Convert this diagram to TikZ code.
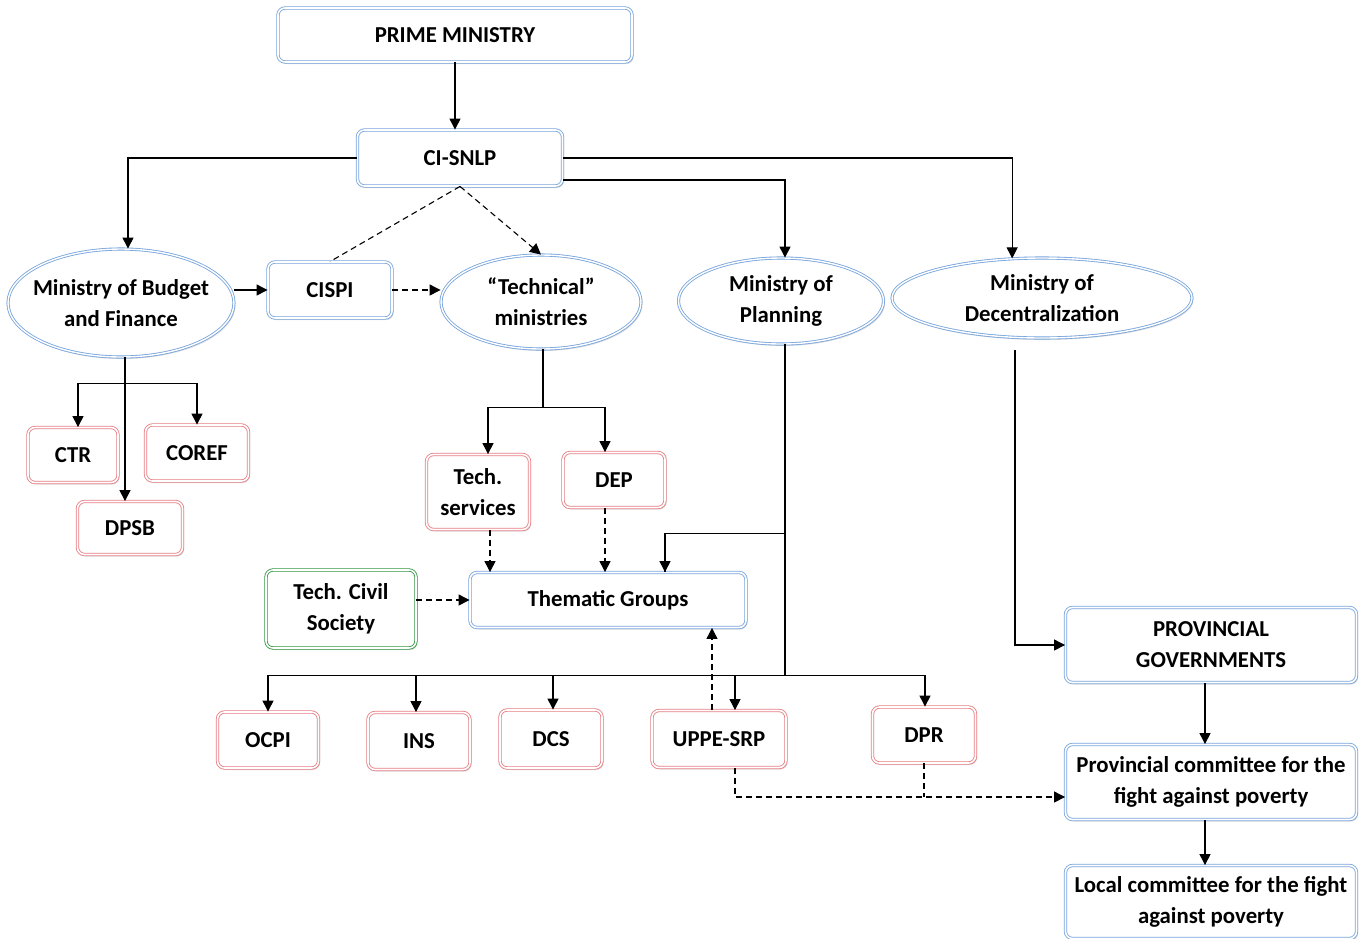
\documentclass[tikz,border=0pt]{standalone}
\usepackage{fontspec}
\setmainfont{Carlito}
\usetikzlibrary{shapes.geometric,arrows.meta,calc,shadows}
\definecolor{bl}{RGB}{120,165,220}
\definecolor{rd}{RGB}{230,125,130}
\definecolor{gr}{RGB}{50,150,65}
\begin{document}
\begin{tikzpicture}[x=1pt,y=-1pt,
 every node/.style={font=\fontsize{22.8}{31}\selectfont\bfseries, align=center, inner sep=0pt},
 bbox/.style={draw=bl, double=white, double distance=1.6pt, line width=0.85pt, rounded corners=7pt,
   drop shadow={opacity=0.25, shadow xshift=1.5pt, shadow yshift=-2pt}, fill=white},
 rbox/.style={bbox, draw=rd},
 gbox/.style={bbox, draw=gr},
 ell/.style={ellipse, draw=bl, double=white, double distance=1.4pt, line width=0.85pt,
   inner xsep=-30pt, inner ysep=-15pt,
   drop shadow={opacity=0.25, shadow xshift=1.5pt, shadow yshift=-2pt}, fill=white},
 arr/.style={-{Triangle[length=11pt,width=11pt]}, line width=1.1pt},
 ln/.style={line width=1.1pt},
 darr/.style={arr, dash pattern=on 6pt off 4pt},
 dln/.style={ln, dash pattern=on 6pt off 4pt},
]
\useasboundingbox (0,0) rectangle (1360,938);

% nodes
\node[bbox, minimum width=354pt, minimum height=54pt] (pm) at (455,35) {PRIME MINISTRY};
\node[bbox, minimum width=205pt, minimum height=56pt] (ci) at (460,158) {CI-SNLP};
\node[ell, minimum width=226pt, minimum height=108pt] (bud) at (121,303) {Ministry of Budget\\and Finance};
\node[bbox, minimum width=124pt, minimum height=56pt] (cispi) at (330,290) {CISPI};
\node[ell, minimum width=200pt, minimum height=94pt] (tech) at (541,302) {“Technical”\\ministries};
\node[ell, minimum width=205pt, minimum height=86pt] (plan) at (781,301) {Ministry of\\Planning};
\node[ell, minimum width=300pt, minimum height=80pt] (dec) at (1042,298) {Ministry of\\Decentralization};

\node[rbox, minimum width=90pt, minimum height=55pt] (ctr) at (73,455) {CTR};
\node[rbox, minimum width=103pt, minimum height=56pt] (coref) at (197,453) {COREF};
\node[rbox, minimum width=105pt, minimum height=53pt] (dpsb) at (130,528) {DPSB};
\node[rbox, minimum width=103pt, minimum height=75pt] (ts) at (478,492) {Tech.\\services};
\node[rbox, minimum width=102pt, minimum height=55pt] (dep) at (614,480) {DEP};
\node[gbox, minimum width=150pt, minimum height=78pt] (civ) at (341,609) {Tech. Civil\\Society};
\node[bbox, minimum width=276pt, minimum height=55pt] (tg) at (608,600) {Thematic Groups};

\node[rbox, minimum width=101pt, minimum height=56pt] (ocpi) at (268,740) {OCPI};
\node[rbox, minimum width=102pt, minimum height=57pt] (ins) at (419,741) {INS};
\node[rbox, minimum width=102pt, minimum height=58pt] (dcs) at (551,739) {DCS};
\node[rbox, minimum width=134pt, minimum height=57pt] (upp) at (719,739) {UPPE-SRP};
\node[rbox, minimum width=103pt, minimum height=56pt] (dpr) at (924,735) {DPR};

\node[bbox, minimum width=291pt, minimum height=75pt] (prov) at (1211,645) {PROVINCIAL\\GOVERNMENTS};
\node[bbox, minimum width=291pt, minimum height=75pt] (pc) at (1211,782) {Provincial committee for the\\fight against poverty};
\node[bbox, minimum width=291pt, minimum height=73pt] (lc) at (1211,902) {Local committee for the fight\\against poverty};

% connectors
\draw[arr] (pm.south) -- (pm.south |- ci.north);
\draw[arr] (ci.west) -| ([xshift=7pt]bud.north);
\draw[arr] (ci.east) -| (dec.127);
\draw[arr] ([yshift=-22pt]ci.east) -| ([xshift=4pt]plan.north);
\draw[dln] (ci.south) -- (cispi.north);
\draw[darr] (ci.south) -- (tech.north);
\draw[arr] (bud.east |- cispi.west) -- (cispi.west);
\draw[darr] (cispi.east) -- (tech.west |- cispi.east);

% budget branch
\draw[arr] ([xshift=4pt]bud.south) -- ([xshift=4pt]bud.south |- dpsb.north);
\coordinate (bj) at ($(bud.south)+(4,26)$);
\draw[ln] ([xshift=5pt]ctr.north |- bj) -- (coref.north |- bj);
\draw[arr] ([xshift=5pt]ctr.north |- bj) -- ([xshift=5pt]ctr.north);
\draw[arr] (coref.north |- bj) -- (coref.north);

% technical branch
\coordinate (tj) at ($(tech.south)+(2,58)$);
\draw[ln] (tech.south -| tj) -- (tj);
\draw[ln] ([xshift=10pt]ts.north |- tj) -- ([xshift=-9pt]dep.north |- tj);
\draw[arr] ([xshift=10pt]ts.north |- tj) -- ([xshift=10pt]ts.north);
\draw[arr] ([xshift=-9pt]dep.north |- tj) -- ([xshift=-9pt]dep.north);
\draw[darr] ([xshift=12pt]ts.south) -- ([xshift=12pt]ts.south |- tg.north);
\draw[darr] ([xshift=-9pt]dep.south) -- ([xshift=-9pt]dep.south |- tg.north);
\draw[darr] (civ.east |- tg.west) -- (tg.west);

% planning branch
\coordinate (pt) at ([xshift=4pt]plan.south);
\coordinate (pj) at ($(pt)+(0,189)$);
\coordinate (bus) at ($(pt)+(0,331)$);
\draw[ln] (pt) -- (bus);
\draw[ln] (pj) -| ([xshift=57pt]tg.north);
\draw[arr] ([xshift=57pt]tg.north |- pj) -- ([xshift=57pt]tg.north);
\draw[ln] (ocpi.north |- bus) -- (dpr.north |- bus);
\draw[arr] (ocpi.north |- bus) -- (ocpi.north);
\draw[arr] ([xshift=-3pt]ins.north |- bus) -- ([xshift=-3pt]ins.north);
\draw[arr] ([xshift=2pt]dcs.north |- bus) -- ([xshift=2pt]dcs.north);
\draw[arr] ([xshift=16pt]upp.north |- bus) -- ([xshift=16pt]upp.north);
\draw[arr] ([xshift=1pt]dpr.north |- bus) -- ([xshift=1pt]dpr.north);
\draw[darr] ([xshift=-7pt]upp.north) -- ([xshift=-7pt]upp.north |- tg.south);

% dashed to provincial committee
\coordinate (pcin) at ([yshift=-15pt]pc.west);
\draw[darr] ([xshift=16pt]upp.south) |- (pcin);
\draw[dln] (dpr.south) -- (dpr.south |- pcin);

% decentralization branch
\draw[arr] ($(dec.south)+(-27,12)$) |- (prov.west);
\draw[arr] ([xshift=-6pt]prov.south) -- ([xshift=-6pt]pc.north);
\draw[arr] ([xshift=-6pt]pc.south) -- ([xshift=-6pt]lc.north);
\end{tikzpicture}
\end{document}
